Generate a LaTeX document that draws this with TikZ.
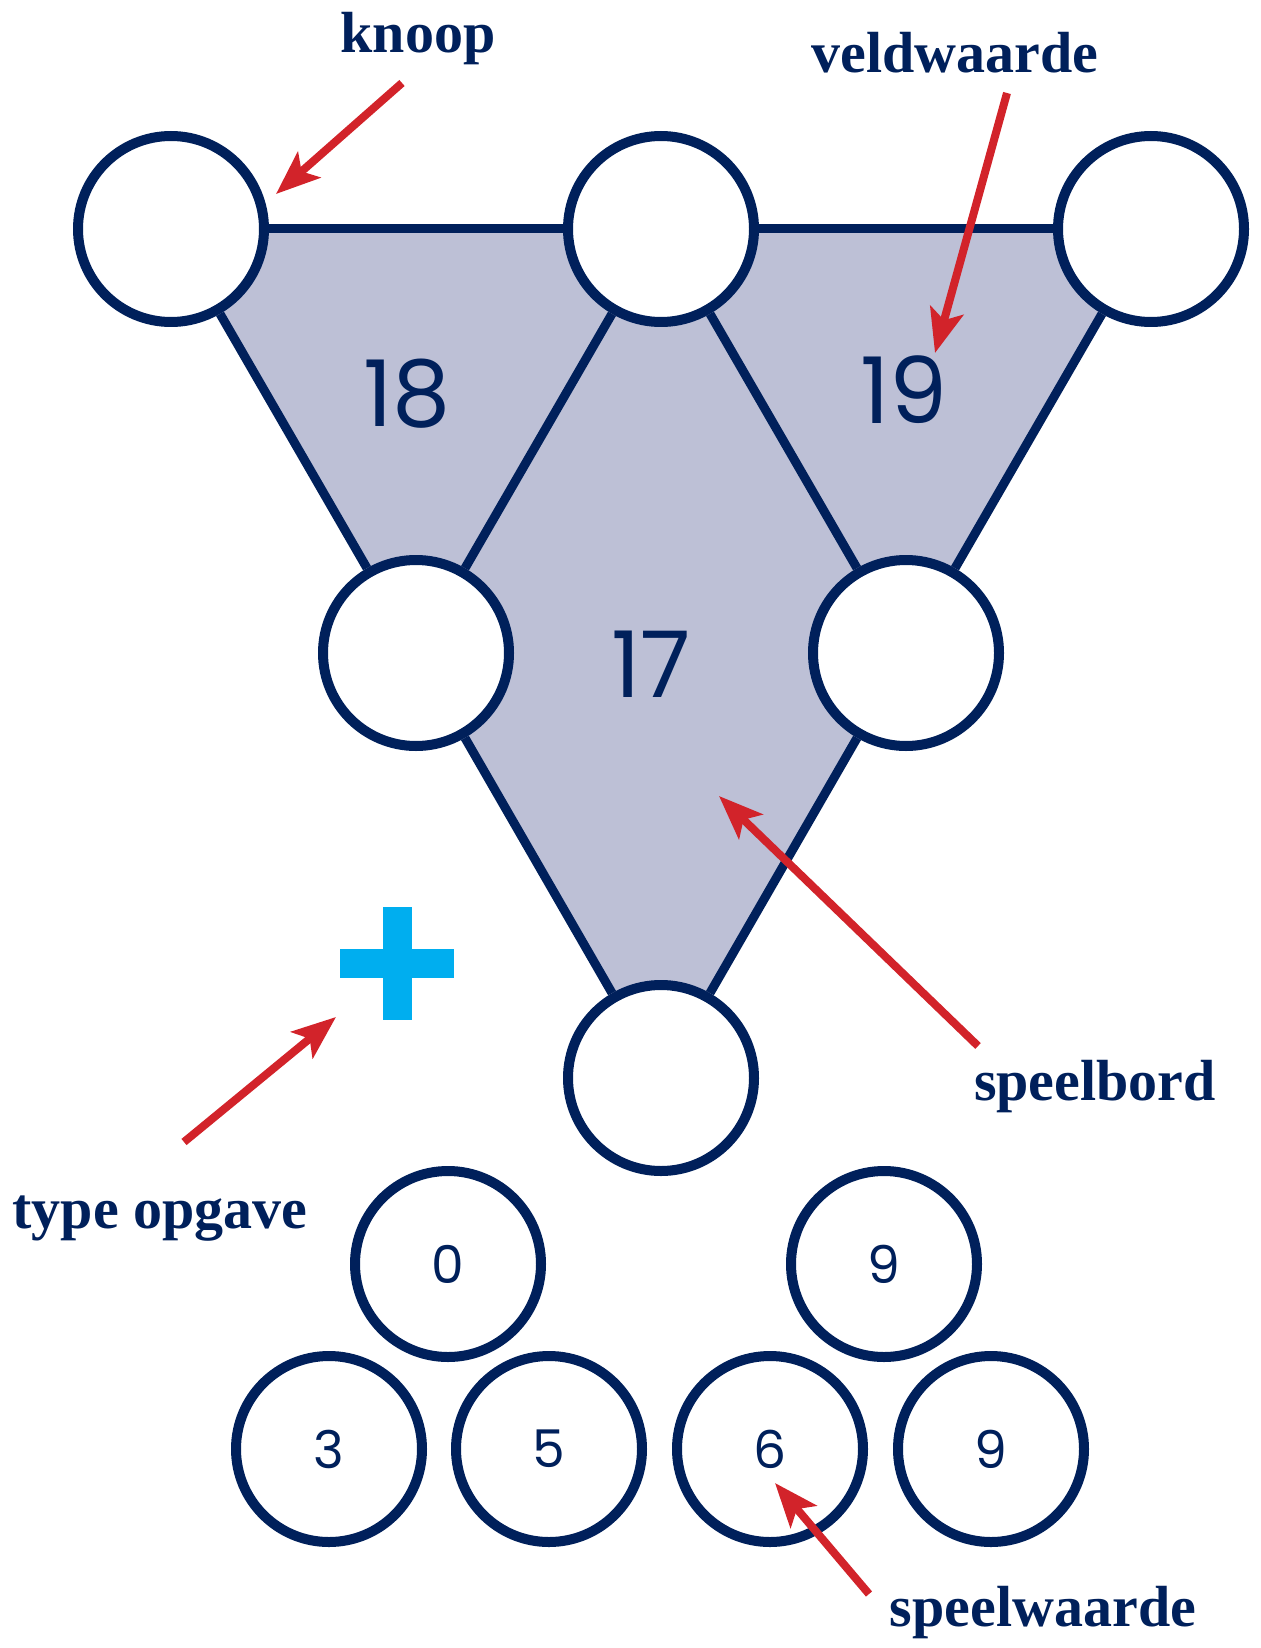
\documentclass[tikz,border=0pt]{standalone}
\usepackage{fontspec}
\setmainfont{Liberation Serif}
\newfontfamily\cijferfont{Poppins}
\usetikzlibrary{arrows.meta}
\definecolor{navy}{HTML}{00205B}
\definecolor{lavendel}{HTML}{BDC0D6}
\definecolor{pijlrood}{HTML}{D2232A}
\definecolor{cyaan}{HTML}{00AEEF}
\begin{document}
\begin{tikzpicture}[line cap=butt,line join=round,x=0.5pt,y=-0.5pt,
  knoop/.style={circle,draw=navy,fill=white,line width=5pt,minimum size=93pt,inner sep=0pt},
  rand/.style={draw=navy,line width=4.5pt},
  pijl/.style={-{Stealth[length=22pt,width=17pt,inset=5pt]},draw=pijlrood,line width=4pt},
  uitleg/.style={text=navy,font=\fontsize{29}{34}\selectfont\bfseries,anchor=base,inner sep=0pt},
  veld/.style={text=navy,font=\cijferfont\fontsize{46}{50}\selectfont,inner sep=0pt},
  waarde/.style={knoop,text=navy,font=\cijferfont\fontsize{26}{30}\selectfont}]
\useasboundingbox (0,0) rectangle (1260,1648);

\coordinate (p1) at (171,229);
\coordinate (p2) at (661,229);
\coordinate (p3) at (1151,229);
\coordinate (p4) at (416,653);
\coordinate (p5) at (906,653);
\coordinate (p6) at (661,1078);
\fill [lavendel] (p1)--(p3)--(p6)--cycle;

\node [knoop] (k1) at (p1) {};
\node [knoop] (k2) at (p2) {};
\node [knoop] (k3) at (p3) {};
\node [knoop] (k4) at (p4) {};
\node [knoop] (k5) at (p5) {};
\node [knoop] (k6) at (p6) {};

\draw [rand] (k1)--(k2);
\draw [rand] (k2)--(k3);
\draw [rand] (k1)--(k4);
\draw [rand] (k4)--(k6);
\draw [rand] (k6)--(k5);
\draw [rand] (k5)--(k3);
\draw [rand] (k2)--(k4);
\draw [rand] (k2)--(k5);

\node [veld] (v18) at (407,394) {18};
\node [veld] (v19) at (904,390) {19};
\node [veld] (v17) at (651,664) {17};

\fill [cyaan] (340,949) rectangle (454,978);
\fill [cyaan] (383,907) rectangle (412,1020);

\node [waarde] (w1) at (448,1264) {0};
\node [waarde] (w2) at (884,1264) {9};
\node [waarde] (w3) at (329,1449) {3};
\node [waarde] (w4) at (549,1449) {5};
\node [waarde] (w5) at (770,1449) {6};
\node [waarde] (w6) at (991,1449) {9};

\node [uitleg] (lknoop) at (418,53) {knoop};
\node [uitleg] (lveld) at (955,73) {veldwaarde};
\node [uitleg] (lbord) at (1095,1100) {speelbord};
\node [uitleg] (ltype) at (160,1228) {type opgave};
\node [uitleg] (lspeel) at (1043,1626) {speelwaarde};

\coordinate (a1) at (402,83);
\coordinate (b1) at (276,194);
\coordinate (a2) at (1007,93);
\coordinate (b2) at (935,353);
\coordinate (a3) at (978,1046);
\coordinate (b3) at (719,796);
\coordinate (a4) at (184,1142);
\coordinate (b4) at (336,1017);
\coordinate (a5) at (869,1594);
\coordinate (b5) at (775,1483);
\draw [pijl] (a1)--(b1);
\draw [pijl] (a2)--(b2);
\draw [pijl] (a3)--(b3);
\draw [pijl] (a4)--(b4);
\draw [pijl] (a5)--(b5);
\end{tikzpicture}
\end{document}
